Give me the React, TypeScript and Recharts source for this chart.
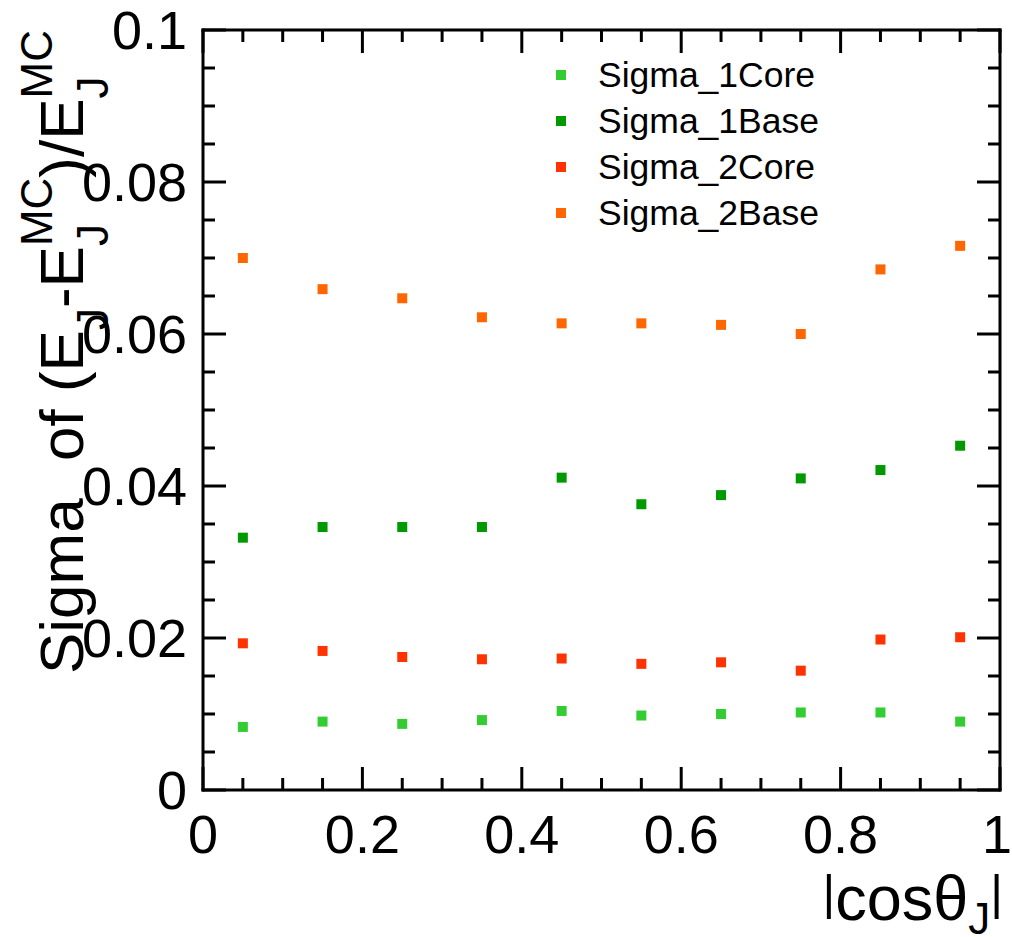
import {
  Label,
  Legend,
  Scatter,
  ScatterChart,
  XAxis,
  YAxis,
} from "recharts";

const FONT = "'Liberation Sans', Arial, Helvetica, sans-serif";

// |cos theta_J| bin centres
const binCenters = [0.05, 0.15, 0.25, 0.35, 0.45, 0.55, 0.65, 0.75, 0.85, 0.95];

const sigma1Core = [0.0083, 0.009, 0.0087, 0.0092, 0.0104, 0.0098, 0.01, 0.0102, 0.0102, 0.009];
const sigma1Base = [0.0332, 0.0346, 0.0346, 0.0346, 0.0411, 0.0376, 0.0388, 0.041, 0.0421, 0.0453];
const sigma2Core = [0.0193, 0.0183, 0.0175, 0.0172, 0.0173, 0.0166, 0.0168, 0.0157, 0.0198, 0.0201];
const sigma2Base = [0.07, 0.0659, 0.0647, 0.0622, 0.0614, 0.0614, 0.0612, 0.06, 0.0685, 0.0716];

const seriesNames = ["Sigma_1Core", "Sigma_1Base", "Sigma_2Core", "Sigma_2Base"];
const seriesColors = ["#33cc33", "#009900", "#ff3300", "#ff6600"];

const xTicks = [
  0, 0.05, 0.1, 0.15, 0.2, 0.25, 0.3, 0.35, 0.4, 0.45, 0.5,
  0.55, 0.6, 0.65, 0.7, 0.75, 0.8, 0.85, 0.9, 0.95, 1,
];
const xMajor = [0, 0.2, 0.4, 0.6, 0.8, 1];
const yTicks = [
  0, 0.005, 0.01, 0.015, 0.02, 0.025, 0.03, 0.035, 0.04, 0.045, 0.05,
  0.055, 0.06, 0.065, 0.07, 0.075, 0.08, 0.085, 0.09, 0.095, 0.1,
];
const yMajor = [0, 0.02, 0.04, 0.06, 0.08, 0.1];

const toPoints = (vals: number[]) => binCenters.map((x, i) => ({ x, y: vals[i] }));
const seriesData = [sigma1Core, sigma1Base, sigma2Core, sigma2Base].map(toPoints);

const isMajor = (list: number[], v: number) => list.some((m) => Math.abs(m - v) < 1e-9);
const MAJOR = 23;
const MINOR = 12;

function BottomTick({ x, y, payload }: any) {
  const major = isMajor(xMajor, payload.value);
  // keep the last label's box inside the picture
  const lx = payload.value === 1 ? x - 3 : x;
  return (
    <g>
      <line x1={x} x2={x} y1={y} y2={y - (major ? MAJOR : MINOR)} stroke="#000" strokeWidth={3} />
      {major && (
        <text x={lx} y={y + 63} textAnchor="middle" fontSize={54} fontFamily={FONT} fill="#000">
          {String(payload.value)}
        </text>
      )}
    </g>
  );
}

function TopTick({ x, y, payload }: any) {
  const major = isMajor(xMajor, payload.value);
  return <line x1={x} x2={x} y1={y} y2={y + (major ? MAJOR : MINOR)} stroke="#000" strokeWidth={3} />;
}

function LeftTick({ x, y, payload }: any) {
  const major = isMajor(yMajor, payload.value);
  return (
    <g>
      <line x1={x} x2={x + (major ? MAJOR : MINOR)} y1={y} y2={y} stroke="#000" strokeWidth={3} />
      {major && (
        <text x={x - 16} y={y + 19} textAnchor="end" fontSize={54} fontFamily={FONT} fill="#000">
          {String(payload.value)}
        </text>
      )}
    </g>
  );
}

function RightTick({ x, y, payload }: any) {
  const major = isMajor(yMajor, payload.value);
  return <line x1={x} x2={x - (major ? MAJOR : MINOR)} y1={y} y2={y} stroke="#000" strokeWidth={3} />;
}

const square = (color: string) => (props: any) =>
  <rect x={props.cx - 5} y={props.cy - 5} width={10} height={10} fill={color} />;

function LegendBox() {
  return (
    <div style={{ fontFamily: FONT }}>
      {seriesNames.map((name, i) => (
        <div key={name} style={{ display: "flex", alignItems: "center", height: 46 }}>
          <span style={{ display: "inline-block", width: 10, height: 10, background: seriesColors[i] }} />
          <span style={{ marginLeft: 32, fontSize: 35.5, lineHeight: "46px", color: "#000" }}>{name}</span>
        </div>
      ))}
    </div>
  );
}

const axisStroke = { stroke: "#000", strokeWidth: 3, strokeLinecap: "square" as const };

export default function App() {
  return (
    <div style={{ position: "absolute", left: 0, top: 0, width: 1012, height: 937, background: "#fff" }}>
      <ScatterChart width={1012} height={937} margin={{ top: 29, right: 11, bottom: 146, left: 202 }}>
        <XAxis
          xAxisId="b"
          dataKey="x"
          type="number"
          domain={[0, 1]}
          ticks={xTicks}
          interval={0}
          height={1}
          tickSize={0}
          tickMargin={0}
          tickLine={false}
          axisLine={axisStroke}
          tick={(p: any) => <BottomTick {...p} />}
          allowDataOverflow
        >
          <Label
            content={() => (
              <text x={1003} y={920} textAnchor="end" fontSize={63} fontFamily={FONT} fill="#000">
                <tspan fontSize={49} dy={-11}>|</tspan>
                <tspan dy={11}>cosθ</tspan>
                <tspan dy={14} fontSize={44}>J</tspan>
                <tspan dy={-25} fontSize={49}>|</tspan>
              </text>
            )}
          />
        </XAxis>
        <XAxis
          xAxisId="t"
          orientation="top"
          dataKey="x"
          type="number"
          domain={[0, 1]}
          ticks={xTicks}
          interval={0}
          height={1}
          tickSize={0}
          tickMargin={0}
          tickLine={false}
          axisLine={axisStroke}
          tick={(p: any) => <TopTick {...p} />}
          allowDataOverflow
        />
        <YAxis
          yAxisId="l"
          dataKey="y"
          type="number"
          domain={[0, 0.1]}
          ticks={yTicks}
          interval={0}
          width={1}
          tickSize={0}
          tickMargin={0}
          tickLine={false}
          axisLine={axisStroke}
          tick={(p: any) => <LeftTick {...p} />}
          allowDataOverflow
        >
          <Label
            content={() => (
              <text
                x={83}
                y={30}
                transform="rotate(-90 83 30)"
                textAnchor="end"
                fontSize={62}
                fontFamily={FONT}
                fill="#000"
              >
                Sigma<tspan dx={20}> of (E</tspan>
                <tspan dy={25} fontSize={44}>J</tspan>
                <tspan dy={-25}>-E</tspan>
                <tspan dy={25} fontSize={44}>J</tspan>
                <tspan dx={-22} dy={-56} fontSize={44}>MC</tspan>
                <tspan dy={31}>)/E</tspan>
                <tspan dy={25} fontSize={44}>J</tspan>
                <tspan dx={-22} dy={-56} fontSize={44}>MC</tspan>
              </text>
            )}
          />
        </YAxis>
        <YAxis
          yAxisId="r"
          orientation="right"
          dataKey="y"
          type="number"
          domain={[0, 0.1]}
          ticks={yTicks}
          interval={0}
          width={1}
          tickSize={0}
          tickMargin={0}
          tickLine={false}
          axisLine={axisStroke}
          tick={(p: any) => <RightTick {...p} />}
          allowDataOverflow
        />
        <Legend
          layout="vertical"
          align="center"
          verticalAlign="middle"
          wrapperStyle={{ left: 556, top: 52, width: 320 }}
          content={() => <LegendBox />}
        />
        {seriesData.map((d, i) => (
          <Scatter
            key={seriesNames[i]}
            name={seriesNames[i]}
            data={d}
            fill={seriesColors[i]}
            xAxisId="b"
            yAxisId="l"
            shape={square(seriesColors[i])}
            isAnimationActive={false}
          />
        ))}
      </ScatterChart>
    </div>
  );
}
